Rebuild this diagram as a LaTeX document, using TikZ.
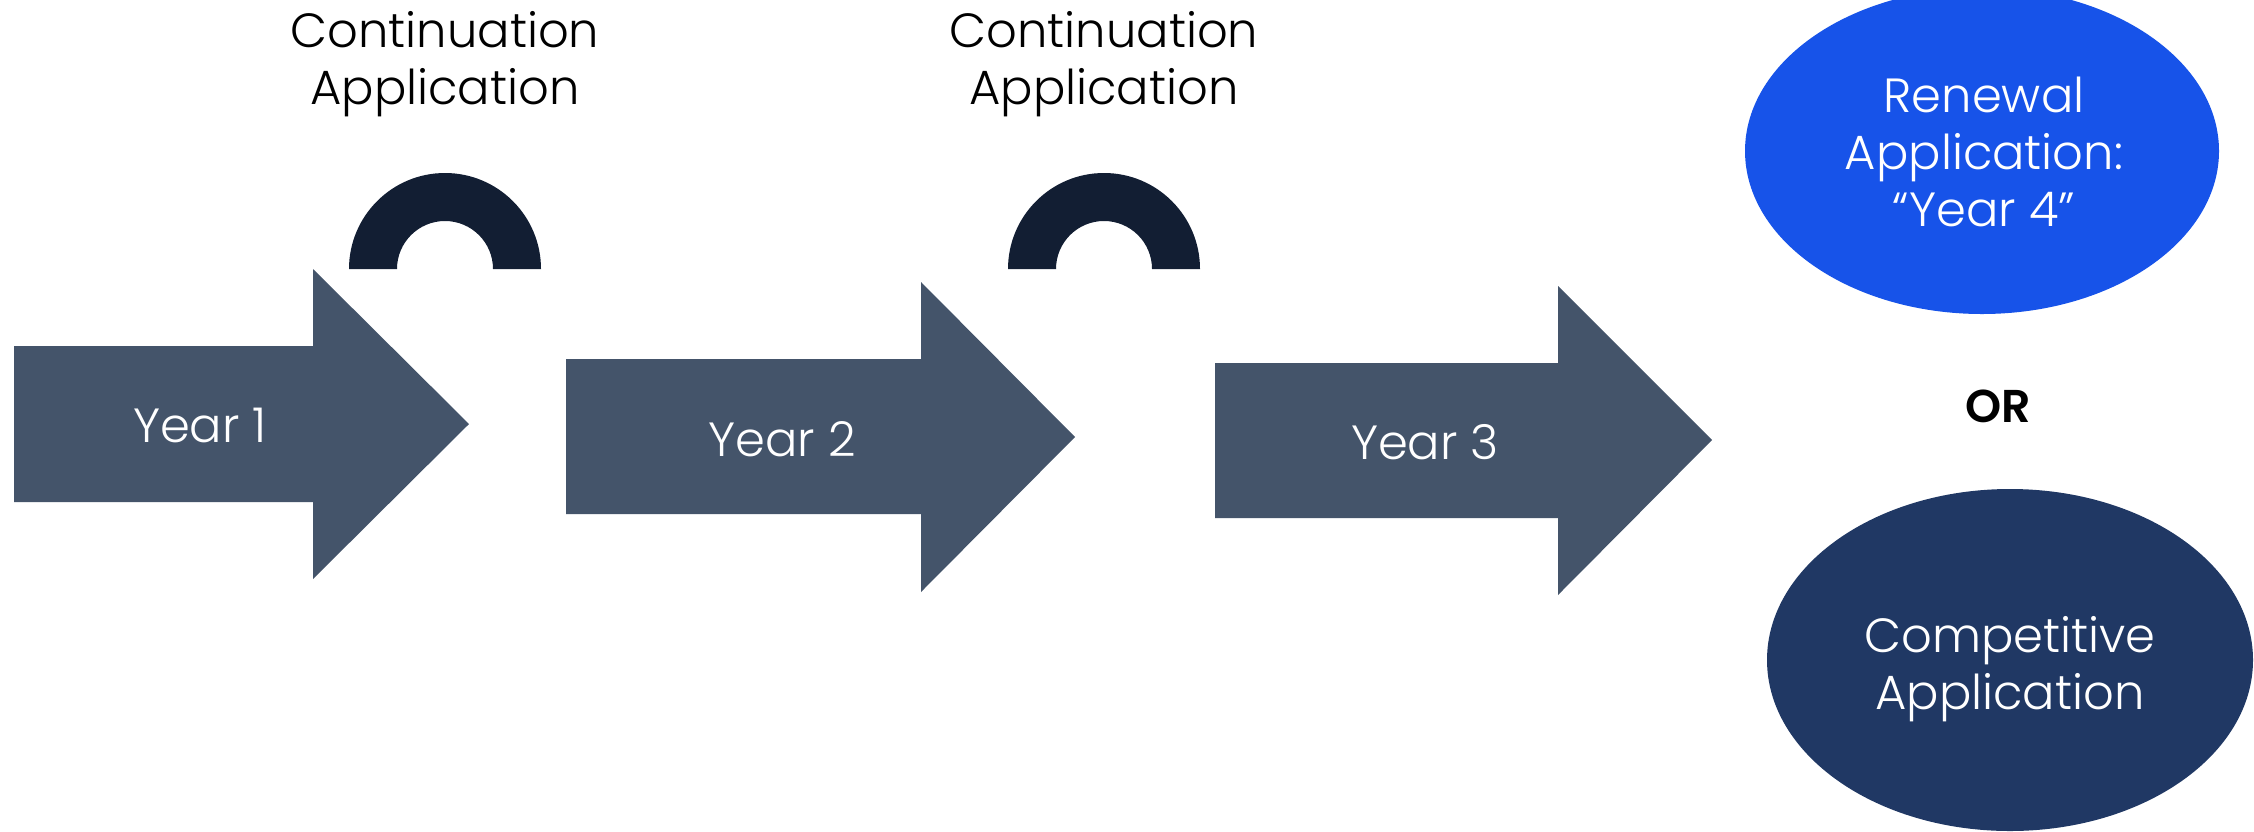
\documentclass[tikz,border=0pt]{standalone}
\usepackage{fontspec}
\setmainfont{Poppins}[UprightFont=* Light, BoldFont=* SemiBold]
\definecolor{arrowc}{HTML}{44546A}
\definecolor{arcc}{HTML}{121E33}
\definecolor{renewc}{HTML}{1753E9}
\definecolor{compc}{HTML}{203864}
\begin{document}
\begin{tikzpicture}[x=0.5pt,y=-0.5pt,
  yearlbl/.style={text=white,font=\fontsize{24}{28.5}\selectfont,inner sep=0pt,anchor=base},
  toplbl/.style={text=black,font=\fontsize{24}{28.5}\selectfont,align=center,inner sep=0pt},
  ovallbl/.style={text=white,font=\fontsize{24}{28.5}\selectfont,align=center,inner sep=0pt},
  orlbl/.style={text=black,font=\bfseries\fontsize{23}{28}\selectfont,inner sep=0pt,anchor=base}]
\useasboundingbox (0,0) rectangle (2254,831);
\clip (0,0) rectangle (2254,831);
\fill[white] (0,0) rectangle (2254,831);
% arrows
\fill[arrowc] (14,346) -- (313,346) -- (313,269) -- (469,424) -- (313,579) -- (313,502) -- (14,502) -- cycle;
\fill[arrowc] (566,359) -- (921,359) -- (921,282) -- (1075,437) -- (921,592) -- (921,514) -- (566,514) -- cycle;
\fill[arrowc] (1215,363) -- (1558,363) -- (1558,286) -- (1712,440) -- (1558,595) -- (1558,518) -- (1215,518) -- cycle;
% half rings
\fill[arcc] (349,269) arc[start angle=180,end angle=360,radius=96] -- (493,269) arc[start angle=0,end angle=-180,radius=48] -- cycle;
\fill[arcc] (1008,269) arc[start angle=180,end angle=360,radius=96] -- (1152,269) arc[start angle=0,end angle=-180,radius=48] -- cycle;
% ellipses
\fill[renewc] (1982,151) ellipse[x radius=237,y radius=163];
\fill[compc] (2010,660) ellipse[x radius=243,y radius=171];
% labels
\node[yearlbl] (y1) at (200,442) {Year 1};
\node[yearlbl] (y2) at (782,456) {Year 2};
\node[yearlbl] (y3) at (1425,459) {Year 3};
\node[toplbl] (c1) at (445,64) {Continuation\\Application};
\node[toplbl] (c2) at (1104,64) {Continuation\\Application};
\node[ovallbl] (r) at (1984,152) {Renewal\\Application:\\“Year 4”};
\node[ovallbl] (k) at (2010,669) {Competitive\\Application};
\node[orlbl] (or) at (1998,422) {OR};
\end{tikzpicture}
\end{document}
